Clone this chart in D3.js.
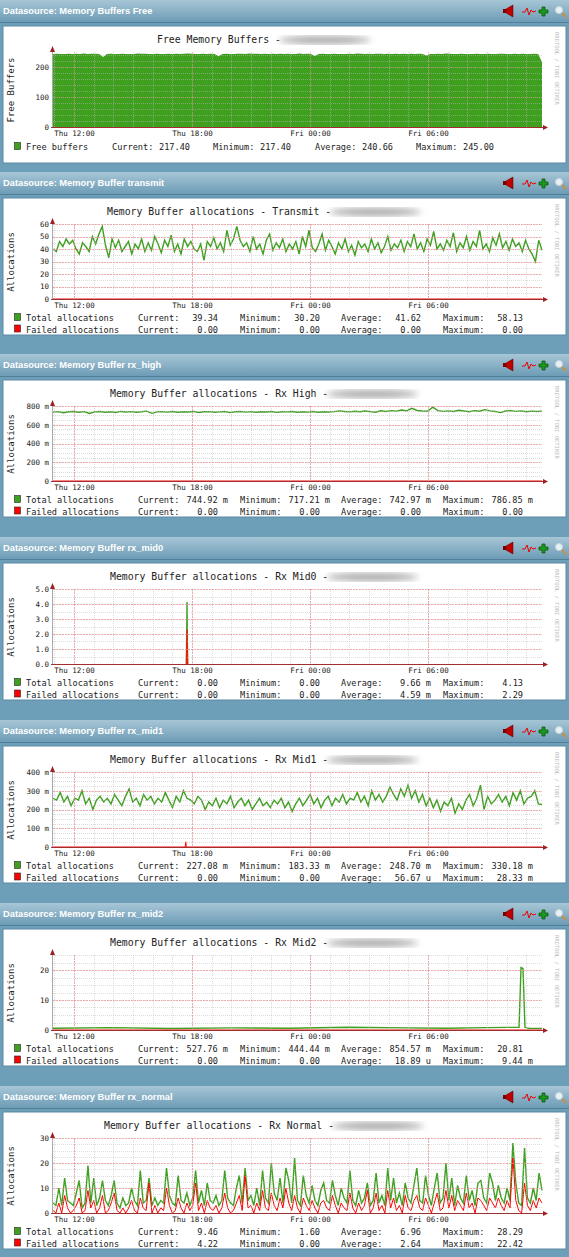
<!DOCTYPE html>
<html><head><meta charset="utf-8">
<script src="https://cdn.jsdelivr.net/npm/d3@7"></script>
<style>
body{margin:0;background:#6e9fb8;}
svg{display:block;}
</style></head><body>
<div id="chart"></div>
<script>
// tijd van de grafieken: Thu 10:56 -> Fri 11:48
const tStart = new Date(2013, 0, 3, 10, 56);
const tEnd = new Date(2013, 0, 4, 11, 48);
const timeTicks = [new Date(2013,0,3,12), new Date(2013,0,3,18), new Date(2013,0,4,0), new Date(2013,0,4,6)];
const timeLabels = ['Thu 12:00', 'Thu 18:00', 'Fri 00:00', 'Fri 06:00'];

const panelTitles = ['Memory Buffers Free', 'Memory Buffer transmit', 'Memory Buffer rx_high', 'Memory Buffer rx_mid0',
  'Memory Buffer rx_mid1', 'Memory Buffer rx_mid2', 'Memory Buffer rx_normal'];
const graphTitles = ['Free Memory Buffers -', 'Memory Buffer allocations - Transmit -', 'Memory Buffer allocations - Rx High -',
  'Memory Buffer allocations - Rx Mid0 -', 'Memory Buffer allocations - Rx Mid1 -', 'Memory Buffer allocations - Rx Mid2 -',
  'Memory Buffer allocations - Rx Normal -'];
const titleX = [157, 107, 110, 110, 110, 110, 104];
const yLabels = ['Free Buffers', 'Allocations', 'Allocations', 'Allocations', 'Allocations', 'Allocations', 'Allocations'];
const yMax = [250, 60, 0.8, 5, 0.4, 25, 30];
const yMajor = [[0,100,200],[0,10,20,30,40,50,60],[0,0.2,0.4,0.6,0.8],[0,1,2,3,4,5],[0,0.1,0.2,0.3,0.4],[0,10,20],[0,10,20,30]];
const yMajorLabels = [['0','100','200'],['0','10','20','30','40','50','60'],['0','200 m','400 m','600 m','800 m'],
  ['0.0','1.0','2.0','3.0','4.0','5.0'],['0','100 m','200 m','300 m','400 m'],['0','10','20'],['0','10','20','30']];
const yMinorStep = [20, 5, 0.05, 0.5, 0.025, 2.5, 2.5];

const freeBuffers = [243,244,243,243,244,243,244,243,245,243,244,244,243,233,243,244,243,243,244,243,243,243,245,244,244,243,
  243,244,243,243,244,243,244,243,244,245,244,243,243,244,243,244,243,236,243,244,243,243,244,244,243,245,244,244,243,244,243,
  244,243,244,243,244,243,243,245,243,244,243,237,243,244,243,243,244,243,243,243,244,243,245,244,243,244,243,244,244,243,244,
  243,244,243,244,243,244,243,244,243,238,243,243,244,243,245,244,243,243,244,243,243,243,244,243,243,244,243,243,244,244,243,
  243,244,243,244,243,243,244,243,217];
const txTotal = [40,38,46,42,48,44,47,40,36,45,42,38,50,44,52,58,43,33,48,41,47,38,42,46,36,44,40,48,38,45,39,50,44,37,47,42,
  51,38,44,36,48,42,46,40,38,44,31,46,42,49,40,45,38,55,43,48,58,47,42,45,38,50,40,44,36,47,52,39,45,41,48,38,44,40,46,36,50,
  42,55,41,38,44,52,39,47,42,36,45,40,48,38,43,35,46,41,44,38,48,40,45,37,42,50,39,44,41,47,38,46,42,52,40,45,38,48,43,54,40,
  44,39,47,42,53,38,45,41,50,39,46,42,55,40,44,38,49,43,52,41,46,39,48,42,45,38,47,40,36,30,47,39];
const txFailed = [0, 0];
const highTotal = [0.735,0.74,0.728,0.738,0.742,0.733,0.74,0.72,0.737,0.741,0.734,0.739,0.731,0.742,0.736,0.74,0.733,0.738,
  0.745,0.722,0.737,0.74,0.735,0.741,0.733,0.739,0.736,0.742,0.731,0.738,0.74,0.734,0.737,0.741,0.729,0.738,0.742,0.735,0.74,
  0.733,0.738,0.736,0.741,0.732,0.739,0.737,0.742,0.734,0.738,0.735,0.741,0.733,0.739,0.736,0.74,0.748,0.742,0.737,0.744,
  0.739,0.746,0.74,0.733,0.749,0.742,0.751,0.745,0.757,0.748,0.775,0.752,0.746,0.744,0.787,0.75,0.743,0.748,0.741,0.755,0.746,
  0.739,0.75,0.744,0.761,0.748,0.742,0.73,0.746,0.751,0.743,0.748,0.739,0.745,0.742,0.745];
const highFailed = [0, 0];
const mid0Time = [0, 6.75, 6.78, 6.85, 6.88, 24.86];
const mid0Total = [0, 0, 4.13, 4.13, 0, 0];
const mid0Failed = [0, 0, 2.29, 2.29, 0, 0];
const mid1Total = [0.26,0.25,0.29,0.24,0.27,0.22,0.26,0.25,0.3,0.23,0.26,0.2,0.25,0.27,0.24,0.26,0.23,0.28,0.25,0.22,0.27,
  0.31,0.24,0.26,0.22,0.28,0.25,0.27,0.23,0.26,0.24,0.29,0.25,0.21,0.27,0.24,0.3,0.26,0.25,0.23,0.27,0.25,0.2,0.24,0.22,0.26,
  0.21,0.25,0.23,0.27,0.21,0.24,0.26,0.22,0.25,0.2,0.23,0.26,0.22,0.24,0.21,0.25,0.23,0.26,0.21,0.24,0.19,0.23,0.26,0.22,0.25,
  0.28,0.23,0.26,0.21,0.25,0.27,0.22,0.26,0.24,0.28,0.23,0.26,0.25,0.29,0.24,0.27,0.22,0.3,0.25,0.28,0.24,0.27,0.32,0.28,0.25,
  0.31,0.27,0.33,0.26,0.3,0.24,0.28,0.22,0.26,0.21,0.25,0.19,0.24,0.22,0.26,0.18,0.23,0.2,0.25,0.28,0.22,0.26,0.33,0.2,0.27,0.23,
  0.25,0.28,0.24,0.27,0.22,0.29,0.25,0.3,0.23,0.26,0.27,0.3,0.23,0.227];
const mid1Time = [0, 6.72, 6.75, 6.78, 24.86];
const mid1Failed = [0, 0, 0.028, 0, 0];
const mid2Time = [0, 3, 6, 9, 12, 15, 18, 20, 22, 23.7, 23.8, 23.9, 24.0, 24.1, 24.2, 24.86];
const mid2Total = [0.6, 0.8, 0.5, 0.7, 0.6, 0.9, 0.7, 0.6, 0.8, 0.9, 20.81, 20.5, 0.9, 0.7, 0.6, 0.53];
const mid2Failed = [0, 0, 0, 0, 0, 0, 0, 0, 0, 0, 0.00944, 0, 0, 0, 0, 0];
const normTotal = [4,3,10,3,14,5,4,3,8,13,2,4,19,4,14,3,6,13,5,3,7,13,4,2,6,3,4,10,5,3,17,4,5,14,3,6,3,5,4,18,7,4,3,15,5,4,
  8,3,6,17,4,9,3,12,5,4,7,3,5,17,6,4,3,10,15,4,18,5,7,3,10,3,17,6,4,20,8,5,14,4,18,13,4,22,5,3,15,7,4,11,5,3,9,12,5,4,13,7,3,
  10,6,4,17,5,3,9,4,6,12,3,5,16,4,7,3,18,5,14,4,8,3,12,6,4,11,18,5,4,15,7,3,10,16,4,6,20,5,14,3,11,6,4,15,5,9,3,12,13,6,4,16,
  12,5,11,6,4,10,5,28,12,4,3,26,6,4,10,5,16,9];
const normFailed = [1,0,4,0,7,2,0,1,3,6,0,1,9,2,5,0,2,7,0,1,4,8,1,0,2,0,2,5,1,0,6,2,1,12,0,3,0,2,1,10,3,0,1,6,2,0,4,1,3,12,1,
  4,0,5,2,1,3,0,2,8,2,0,1,4,7,1,15,2,3,0,4,1,9,2,1,8,3,1,6,2,10,4,1,7,2,0,6,3,1,5,2,0,4,5,2,1,7,3,0,4,2,1,8,2,0,4,1,3,9,0,2,8,
  1,3,0,9,2,6,1,3,0,7,2,1,5,7,2,1,6,3,0,4,8,1,2,9,2,7,1,5,3,1,8,2,4,0,6,5,3,1,6,4,2,6,3,1,5,2,22,5,1,0,12,3,1,5,2,6,4];

const legends = [
  [['Free buffers', '#3f9f1f', ['217.40', '217.40', '240.66', '245.00']]],
  [['Total allocations', '#3f9f1f', ['39.34', '30.20', '41.62', '58.13']], ['Failed allocations', '#ff0000', ['0.00', '0.00', '0.00', '0.00']]],
  [['Total allocations', '#3f9f1f', ['744.92 m', '717.21 m', '742.97 m', '786.85 m']], ['Failed allocations', '#ff0000', ['0.00', '0.00', '0.00', '0.00']]],
  [['Total allocations', '#3f9f1f', ['0.00', '0.00', '9.66 m', '4.13']], ['Failed allocations', '#ff0000', ['0.00', '0.00', '4.59 m', '2.29']]],
  [['Total allocations', '#3f9f1f', ['227.08 m', '183.33 m', '248.70 m', '330.18 m']], ['Failed allocations', '#ff0000', ['0.00', '0.00', '56.67 u', '28.33 m']]],
  [['Total allocations', '#3f9f1f', ['527.76 m', '444.44 m', '854.57 m', '20.81']], ['Failed allocations', '#ff0000', ['0.00', '0.00', '18.89 u', '9.44 m']]],
  [['Total allocations', '#3f9f1f', ['9.46', '1.60', '6.96', '28.29']], ['Failed allocations', '#ff0000', ['4.22', '0.00', '2.64', '22.42']]]
];

const headerTops = [0, 172, 354, 537, 720, 903, 1086];
const W = 569, H = 1257;
const left = 53, right = 542;
const mono = 'DejaVu Sans Mono';

const svg = d3.select('#chart').append('svg').attr('width', W).attr('height', H);
const defs = svg.append('defs');
const grad = defs.append('linearGradient').attr('id', 'hdr').attr('x1', 0).attr('x2', 0).attr('y1', 0).attr('y2', 1);
grad.append('stop').attr('offset', 0).attr('stop-color', '#a7c6d6');
grad.append('stop').attr('offset', 1).attr('stop-color', '#6d9cb6');
defs.append('filter').attr('id', 'blur').append('feGaussianBlur').attr('stdDeviation', 3);

const x = d3.scaleTime().domain([tStart, tEnd]).range([left, right]);
const hrs = h => new Date(tStart.getTime() + h * 3600000);
const byIndex = arr => arr.map((v, i) => [new Date(tStart.getTime() + (tEnd - tStart) * i / (arr.length - 1)), v]);
const byTime = (ts, vs) => vs.map((v, i) => [hrs(ts[i]), v]);

const series = [
  [{d: byIndex(freeBuffers), c: '#3f9f1f', area: true}],
  [{d: byIndex(txTotal), c: '#3f9f1f'}, {d: byIndex(txFailed), c: '#ff0000', w: 1}],
  [{d: byIndex(highTotal), c: '#3f9f1f'}, {d: byIndex(highFailed), c: '#ff0000', w: 1}],
  [{d: byTime(mid0Time, mid0Total), c: '#3f9f1f', area: true}, {d: byTime(mid0Time, mid0Failed), c: '#e8200c', area: true}],
  [{d: byIndex(mid1Total), c: '#3f9f1f'}, {d: byTime(mid1Time, mid1Failed), c: '#ff0000', w: 1}],
  [{d: byTime(mid2Time, mid2Total), c: '#3f9f1f'}, {d: byTime(mid2Time, mid2Failed), c: '#ff0000', w: 1}],
  [{d: byIndex(normTotal), c: '#3f9f1f'}, {d: byIndex(normFailed), c: '#ff0000', w: 1}]
];

function drawIcons(g) {
  g.append('path').attr('d', 'M506,9 L513,5 L513,17 L506,13 Z').attr('fill', '#c00000').attr('stroke', '#500').attr('stroke-width', 0.5);
  g.append('rect').attr('x', 503).attr('y', 9).attr('width', 3).attr('height', 4).attr('fill', '#700');
  g.append('path').attr('d', 'M522,12 L525,12 L527,8 L529,15 L531,10 L533,12 L536,11').attr('fill', 'none').attr('stroke', '#e00').attr('stroke-width', 1);
  g.append('path').attr('d', 'M542,7h3v3h3v3h-3v3h-3v-3h-3v-3h3z').attr('fill', '#1a9a1a').attr('stroke', '#0a4a0a').attr('stroke-width', 0.7);
  g.append('circle').attr('cx', 559).attr('cy', 10).attr('r', 3.5).attr('fill', '#e8f0f4').attr('stroke', '#c8d4da');
  g.append('line').attr('x1', 562).attr('y1', 13).attr('x2', 566).attr('y2', 17).attr('stroke', '#c89040').attr('stroke-width', 2);
}

headerTops.forEach((top, p) => {
  const g = svg.append('g').attr('transform', `translate(0,${top})`);
  g.append('rect').attr('x', 0).attr('y', 0).attr('width', W).attr('height', 22).attr('fill', 'url(#hdr)');
  g.append('line').attr('x1', 0).attr('x2', W).attr('y1', 22.5).attr('y2', 22.5).attr('stroke', '#4f7f99');
  g.append('text').attr('x', 3).attr('y', 14).attr('fill', '#fff').attr('font-family', 'Liberation Sans')
    .attr('font-size', 9.3).attr('font-weight', 'bold').text('Datasource: ' + panelTitles[p]);
  drawIcons(g);
  g.append('rect').attr('x', 3).attr('y', 26).attr('width', W - 6).attr('height', 137)
    .attr('fill', '#fff').attr('stroke', '#5a8aa4');

  const y = d3.scaleLinear().domain([0, yMax[p]]).range([127, 52]);

  // data eerst, raster er bovenop zoals rrdtool
  series[p].forEach(s => {
    if (s.area) {
      g.append('path').datum(s.d).attr('fill', s.c)
        .attr('d', d3.area().x(d => x(d[0])).y0(y(0)).y1(d => y(d[1])));
    } else {
      g.append('path').datum(s.d).attr('fill', 'none').attr('stroke', s.c).attr('stroke-width', s.w || 1.4)
        .attr('d', d3.line().x(d => x(d[0])).y(d => y(d[1])));
    }
  });

  const minors = d3.range(0, yMax[p] + 1e-9, yMinorStep[p]);
  g.selectAll('.hmin').data(minors).join('line').attr('x1', left).attr('x2', right)
    .attr('y1', d => Math.round(y(d)) + 0.5).attr('y2', d => Math.round(y(d)) + 0.5)
    .attr('stroke', '#bbb').attr('stroke-opacity', 0.5).attr('stroke-dasharray', '1,1');
  const hourly = d3.timeHour.range(tStart, tEnd);
  g.selectAll('.vmin').data(hourly).join('line').attr('y1', 52).attr('y2', 127)
    .attr('x1', d => Math.round(x(d)) + 0.5).attr('x2', d => Math.round(x(d)) + 0.5)
    .attr('stroke', '#bbb').attr('stroke-opacity', 0.5).attr('stroke-dasharray', '1,1');
  g.selectAll('.hmaj').data(yMajor[p]).join('line').attr('x1', left).attr('x2', right)
    .attr('y1', d => Math.round(y(d)) + 0.5).attr('y2', d => Math.round(y(d)) + 0.5)
    .attr('stroke', '#f08080').attr('stroke-opacity', p === 0 ? 0.35 : 0.6).attr('stroke-dasharray', '2,1');
  g.selectAll('.vmaj').data(timeTicks).join('line').attr('y1', 52).attr('y2', 127)
    .attr('x1', d => Math.round(x(d)) + 0.5).attr('x2', d => Math.round(x(d)) + 0.5)
    .attr('stroke', '#f08080').attr('stroke-opacity', p === 0 ? 0.35 : 0.6).attr('stroke-dasharray', '2,1');

  // assen
  g.append('line').attr('x1', left - 0.5).attr('x2', left - 0.5).attr('y1', 48).attr('y2', 128).attr('stroke', '#aaa');
  g.append('path').attr('d', `M${left - 3},52 L${left - 0.5},46 L${left + 2},52 Z`).attr('fill', '#a02020');
  g.append('line').attr('x1', left - 2).attr('x2', right + 2).attr('y1', 127.5).attr('y2', 127.5).attr('stroke', '#a03030');
  g.append('path').attr('d', `M${right + 1},125 L${right + 6},127.5 L${right + 1},130 Z`).attr('fill', '#a02020');

  const ya = g.append('g').attr('transform', `translate(${left - 2},0)`)
    .call(d3.axisLeft(y).tickValues(yMajor[p]).tickFormat((d, i) => yMajorLabels[p][i]).tickSize(0).tickPadding(2));
  ya.select('.domain').remove();
  ya.selectAll('text').attr('font-family', mono).attr('font-size', 7.5).attr('fill', '#222');

  const xa = g.append('g').attr('transform', 'translate(0,128)')
    .call(d3.axisBottom(x).tickValues(timeTicks).tickFormat((d, i) => timeLabels[i]).tickSize(0).tickPadding(3));
  xa.select('.domain').remove();
  xa.selectAll('text').attr('font-family', mono).attr('font-size', 7.5).attr('fill', '#222');

  // titels
  const tt = g.append('text').attr('x', titleX[p]).attr('y', 43)
    .attr('font-family', mono).attr('font-size', 9.8).attr('fill', '#222').text(graphTitles[p]);
  const tw = tt.node().getComputedTextLength();
  g.append('ellipse').attr('cx', titleX[p] + tw + 44).attr('cy', 40).attr('rx', 46).attr('ry', 4)
    .attr('fill', '#aaa').attr('filter', 'url(#blur)');
  g.append('text').attr('transform', 'translate(14,90) rotate(-90)').attr('text-anchor', 'middle')
    .attr('font-family', mono).attr('font-size', 9).attr('fill', '#222').text(yLabels[p]);
  g.append('text').attr('transform', 'translate(555,32) rotate(90)').attr('font-family', mono)
    .attr('font-size', 5.5).attr('fill', '#bbb').text('RRDTOOL / TOBI OETIKER');

  // legenda
  const lf = 8.6;
  legends[p].forEach((l, i) => {
    const ly = (p === 0 ? 150 : 149) + i * 11.5;
    g.append('rect').attr('x', 14.5).attr('y', ly - 7.5).attr('width', 6).attr('height', 7)
      .attr('fill', l[1]).attr('stroke', '#222').attr('stroke-width', 0.6);
    g.append('text').attr('x', 26).attr('y', ly).attr('font-family', mono).attr('font-size', lf).attr('fill', '#222').text(l[0]);
    const names = ['Current:', 'Minimum:', 'Average:', 'Maximum:'];
    const single = p === 0;
    names.forEach((n, k) => {
      const bx = single ? [112, 213, 315, 416][k] : [138, 240, 341, 443][k];
      g.append('text').attr('x', bx).attr('y', ly).attr('font-family', mono).attr('font-size', lf).attr('fill', '#222').text(n);
      if (single) {
        g.append('text').attr('x', bx + 47).attr('y', ly).attr('font-family', mono)
          .attr('font-size', lf).attr('fill', '#222').text(l[2][k]);
      } else {
        const v = l[2][k];
        const hasUnit = /[mu]$/.test(v);
        g.append('text').attr('x', bx + (hasUnit ? 90 : 80)).attr('y', ly).attr('text-anchor', 'end')
          .attr('font-family', mono).attr('font-size', lf).attr('fill', '#222').text(v);
      }
    });
  });
});
</script>
</body></html>
